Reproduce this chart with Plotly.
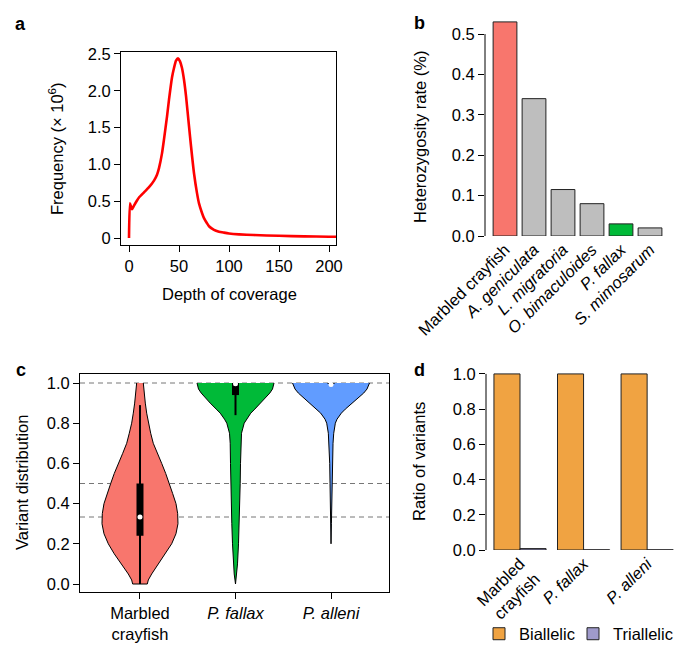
import plotly.graph_objects as go

W, H = 677, 645

# ---------------- data ----------------
# panel a: depth of coverage distribution
depth = [0, 1, 3, 5, 8, 10, 15, 20, 25, 28, 30, 33, 35, 38, 40, 43, 45, 47, 49, 51, 53,
         55, 57, 60, 62, 65, 68, 70, 73, 75, 78, 80, 85, 90, 95, 100, 110, 125, 150, 175, 200, 210]
freq = [0, 0.47, 0.39, 0.44, 0.51, 0.55, 0.62, 0.69, 0.78, 0.86, 0.95, 1.15, 1.34, 1.65, 1.88,
        2.18, 2.31, 2.41, 2.44, 2.40, 2.31, 2.15, 1.93, 1.52, 1.25, 0.88, 0.61, 0.47, 0.34, 0.27,
        0.20, 0.16, 0.11, 0.086, 0.073, 0.062, 0.05, 0.04, 0.03, 0.022, 0.018, 0.017]
a_xticks = [0, 50, 100, 150, 200]
a_yticks = [0, 0.5, 1.0, 1.5, 2.0, 2.5]
a_yticktext = ["0", "0.5", "1.0", "1.5", "2.0", "2.5"]

# panel b: heterozygosity
species = ["Marbled crayfish", "A. geniculata", "L. migratoria", "O. bimaculoides", "P. fallax", "S. mimosarum"]
species_labels = ["Marbled crayfish", "<i>A. geniculata</i>", "<i>L. migratoria</i>",
                  "<i>O. bimaculoides</i>", "<i>P. fallax</i>", "<i>S. mimosarum</i>"]
heterozygosity = [0.53, 0.34, 0.115, 0.08, 0.03, 0.02]
b_yticks = [0.0, 0.1, 0.2, 0.3, 0.4, 0.5]

# panel c: variant distribution (violin outlines)
groups = ["Marbled crayfish", "P. fallax", "P. alleni"]
group_labels = ["Marbled<br>crayfish", "<i>P. fallax</i>", "<i>P. alleni</i>"]
marbled_y = [1.0, 0.95, 0.9, 0.85, 0.8, 0.75, 0.7, 0.65, 0.6, 0.55, 0.5, 0.45, 0.4, 0.35, 0.3,
             0.25, 0.2, 0.15, 0.1, 0.05, 0.02, 0.0]
marbled_density = [0.086, 0.104, 0.138, 0.174, 0.216, 0.278, 0.345, 0.449, 0.564, 0.668, 0.761,
                   0.849, 0.935, 0.979, 0.987, 0.935, 0.823, 0.668, 0.475, 0.304, 0.216, 0.19]
fallax_y = [1.0, 0.97, 0.95, 0.92, 0.9, 0.87, 0.85, 0.82, 0.8, 0.75, 0.7, 0.6, 0.5, 0.4, 0.3,
            0.2, 0.1, 0.05, 0.0]
fallax_density = [1.0, 0.961, 0.891, 0.761, 0.657, 0.501, 0.397, 0.286, 0.226, 0.156, 0.138,
                  0.13, 0.122, 0.112, 0.096, 0.078, 0.052, 0.034, 0.0]
alleni_y = [1.0, 0.97, 0.95, 0.92, 0.9, 0.87, 0.85, 0.82, 0.8, 0.75, 0.7, 0.6, 0.5, 0.4, 0.3, 0.2]
alleni_density = [1.0, 0.935, 0.849, 0.675, 0.545, 0.371, 0.268, 0.156, 0.112, 0.07, 0.052,
                  0.034, 0.026, 0.018, 0.01, 0.0]
whisker_lo = [0.0, 0.84, 0.99]
q1 = [0.24, 0.94, 0.995]
median = [0.333, 0.996, 0.993]
q3 = [0.50, 1.0, 1.0]
whisker_hi = [0.89, 1.0, 1.0]
ref_lines = [1.0, 0.5, 1 / 3]
c_yticks = [0.0, 0.2, 0.4, 0.6, 0.8, 1.0]

# panel d: ratio of variants
d_groups = ["Marbled crayfish", "P. fallax", "P. alleni"]
d_labels = ["Marbled<br>crayfish", "<i>P. fallax</i>", "<i>P. alleni</i>"]
biallelic = [1.0, 1.0, 1.0]
triallelic = [0.008, 0.001, 0.001]
d_yticks = [0.0, 0.2, 0.4, 0.6, 0.8, 1.0]

# ---------------- styles ----------------
RED = "#FF0000"
SALMON = "#F8766D"
GREEN = "#00BA38"
BLUE = "#619CFF"
GRAY = "#BEBEBE"
ORANGE = "#F0A342"
PURPLE = "#9F9ACB"
FONT = "Liberation Sans, Arial, sans-serif"
FS = 16.5


def dx(p):
    return p / W


def dy(p):
    return 1 - p / H


fig = go.Figure()

# panel a
fig.add_trace(go.Scatter(x=depth, y=freq, mode="lines", line=dict(color=RED, width=2.6, shape="spline", smoothing=0.5),
                         xaxis="x", yaxis="y", showlegend=False, hoverinfo="skip"))

# panel b
bar_colors = [SALMON, GRAY, GRAY, GRAY, GREEN, GRAY]
fig.add_trace(go.Bar(x=species, y=heterozygosity, marker=dict(color=bar_colors, line=dict(color="#222", width=1)),
                     xaxis="x2", yaxis="y2", showlegend=False))

# panel c: violins
half_width = 0.403
violin_sets = [(marbled_y, marbled_density, SALMON), (fallax_y, fallax_density, GREEN), (alleni_y, alleni_density, BLUE)]
for i, (vy, vd, col) in enumerate(violin_sets):
    c = i + 1
    xs = [c - half_width * d for d in vd] + [c + half_width * d for d in reversed(vd)]
    ys = list(vy) + list(reversed(vy))
    fig.add_trace(go.Scatter(x=xs, y=ys, mode="lines", fill="toself", fillcolor=col,
                             line=dict(color="black", width=1), xaxis="x3", yaxis="y3",
                             showlegend=False, hoverinfo="skip"))
for i in range(len(groups)):
    c = i + 1
    fig.add_trace(go.Scatter(x=[c, c], y=[whisker_lo[i], whisker_hi[i]], mode="lines",
                             line=dict(color="black", width=2), xaxis="x3", yaxis="y3", showlegend=False))
    fig.add_trace(go.Scatter(x=[c, c], y=[q1[i], q3[i]], mode="lines",
                             line=dict(color="black", width=7), xaxis="x3", yaxis="y3", showlegend=False))
fig.add_trace(go.Scatter(x=[1, 2, 3], y=median, mode="markers", marker=dict(color="white", size=5),
                         xaxis="x3", yaxis="y3", showlegend=False))

# panel d
fig.add_trace(go.Bar(x=d_groups, y=biallelic, name="Biallelic", marker=dict(color=ORANGE, line=dict(color="#222", width=1)),
                     xaxis="x4", yaxis="y4", legend="legend"))
fig.add_trace(go.Bar(x=d_groups, y=triallelic, name="Triallelic", marker=dict(color=PURPLE, line=dict(color="#222", width=1)),
                     xaxis="x4", yaxis="y4", legend="legend2"))

axis_common = dict(showgrid=False, zeroline=False, linecolor="black", linewidth=1, tickcolor="black",
                   ticklen=6, tickwidth=1, tickfont=dict(size=FS, color="black"), automargin=False)

legend_common = dict(orientation="h", xanchor="left", yanchor="middle", font=dict(size=FS),
                     bgcolor="rgba(0,0,0,0)", itemwidth=30)

fig.update_layout(
    width=W, height=H, margin=dict(l=0, r=0, t=0, b=0, autoexpand=False),
    paper_bgcolor="white", plot_bgcolor="white",
    font=dict(family=FONT, size=FS, color="black"),
    barmode="group", bargap=0.18, bargroupgap=0,
    xaxis=dict(domain=[dx(121), dx(336)], range=[-8, 207], tickvals=a_xticks, ticks="outside",
               showline=True, mirror=True, anchor="y", **axis_common),
    yaxis=dict(domain=[dy(245), dy(52)], range=[-0.095, 2.527], tickvals=a_yticks, ticktext=a_yticktext,
               ticks="outside", showline=True, mirror=True, anchor="x", **axis_common),
    xaxis2=dict(domain=[dx(485), dx(669)], range=[-0.69, 5.655], tickvals=species, ticktext=species_labels,
                tickangle=-45, ticks="", showline=False, anchor="y2", **axis_common),
    yaxis2=dict(domain=[dy(236), dy(16)], range=[0, 0.5446], tickvals=b_yticks,
                ticktext=["%.1f" % v for v in b_yticks], ticks="outside", showline=False, anchor="x2", **axis_common),
    xaxis3=dict(domain=[dx(80), dx(389)], range=[0.372, 3.607], tickvals=[1, 2, 3], ticktext=group_labels,
                ticks="outside", showline=True, mirror=True, anchor="y3", **axis_common),
    yaxis3=dict(domain=[dy(592), dy(374)], range=[-0.0398, 1.0448], tickvals=c_yticks,
                ticktext=["%.1f" % v for v in c_yticks], ticks="outside", showline=True, mirror=True,
                anchor="x3", **axis_common),
    xaxis4=dict(domain=[dx(486), 1.0], range=[-0.535, 2.47], tickvals=d_groups, ticktext=d_labels,
                tickangle=-45, ticks="", showline=False, anchor="y4", **axis_common),
    yaxis4=dict(domain=[dy(550), dy(366)], range=[0, 1.045], tickvals=d_yticks,
                ticktext=["%.1f" % v for v in d_yticks], ticks="outside", showline=False, anchor="x4", **axis_common),
    legend=dict(x=dx(479), y=dy(634), **legend_common),
    legend2=dict(x=dx(573), y=dy(634), **legend_common),
)

shapes = []
for v in ref_lines:
    shapes.append(dict(type="line", xref="x3 domain", yref="y3", x0=0, x1=1, y0=v, y1=v, layer="below",
                       line=dict(color="#777777", width=1, dash="5px,4px")))
shapes.append(dict(type="line", xref="x2 domain", yref="y2", x0=0, x1=0, y0=b_yticks[0], y1=b_yticks[-1],
                   line=dict(color="black", width=1)))
shapes.append(dict(type="line", xref="x4 domain", yref="y4", x0=0, x1=0, y0=d_yticks[0], y1=d_yticks[-1],
                   line=dict(color="black", width=1)))
fig.update_layout(shapes=shapes)

ann = []
for lab, x, y in [("a", 20, 24), ("b", 419, 23), ("c", 21, 370), ("d", 419, 370)]:
    ann.append(dict(text="<b>%s</b>" % lab, x=dx(x), y=dy(y), xref="paper", yref="paper", showarrow=False,
                    font=dict(size=18), xanchor="center", yanchor="middle"))
for txt, x, y, ang in [("Frequency (× 10<sup>6</sup>)", 56, 149, -90),
                       ("Depth of coverage", 229, 294, 0),
                       ("Heterozygosity rate (%)", 420, 137, -90),
                       ("Variant distribution", 22, 483, -90),
                       ("Ratio of variants", 419, 462, -90)]:
    ann.append(dict(text=txt, x=dx(x), y=dy(y), xref="paper", yref="paper", showarrow=False,
                    font=dict(size=FS), xanchor="center", yanchor="middle", textangle=ang))
fig.update_layout(annotations=ann)

fig.write_html("out.html", config={"displayModeBar": False},
               post_script="document.body.style.margin='0';document.body.style.overflow='hidden';")
